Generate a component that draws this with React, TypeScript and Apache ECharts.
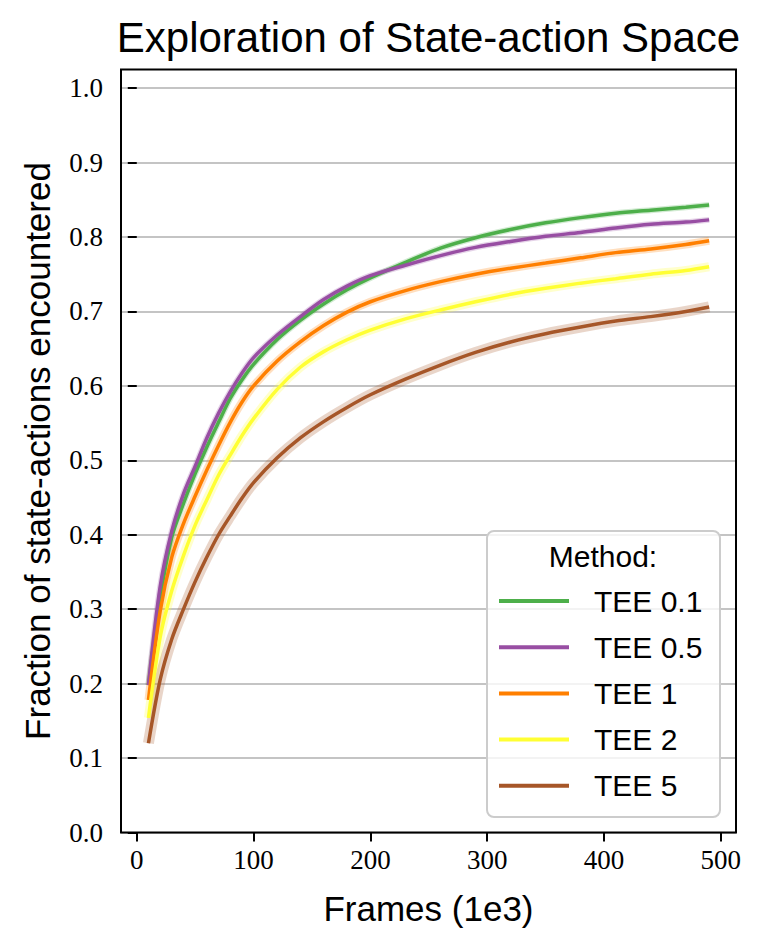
import React, { useEffect, useRef } from "react";
import * as echarts from "echarts";

const frames = [10, 20, 30, 40, 50, 60, 70, 80, 90, 100, 120, 140, 160, 180, 200, 230, 260, 290, 320, 350, 380, 410, 440, 470, 490];
const tee01 = [0.198, 0.315, 0.397, 0.442, 0.482, 0.518, 0.551, 0.583, 0.608, 0.629, 0.662, 0.688, 0.710, 0.729, 0.745, 0.766, 0.785, 0.799, 0.810, 0.819, 0.826, 0.832, 0.836, 0.840, 0.843];
const tee05 = [0.198, 0.330, 0.405, 0.455, 0.492, 0.530, 0.563, 0.592, 0.617, 0.638, 0.668, 0.693, 0.716, 0.734, 0.748, 0.762, 0.775, 0.786, 0.794, 0.801, 0.806, 0.812, 0.817, 0.820, 0.823];
const tee1 = [0.178, 0.297, 0.370, 0.415, 0.452, 0.487, 0.520, 0.551, 0.578, 0.600, 0.633, 0.659, 0.681, 0.699, 0.713, 0.728, 0.740, 0.750, 0.758, 0.765, 0.772, 0.779, 0.784, 0.790, 0.795];
const tee2 = [0.154, 0.262, 0.325, 0.372, 0.413, 0.447, 0.480, 0.507, 0.533, 0.556, 0.595, 0.625, 0.646, 0.662, 0.675, 0.690, 0.702, 0.713, 0.723, 0.731, 0.738, 0.744, 0.750, 0.755, 0.760];
const tee5 = [0.120, 0.205, 0.260, 0.300, 0.337, 0.370, 0.400, 0.425, 0.449, 0.470, 0.503, 0.530, 0.552, 0.571, 0.588, 0.609, 0.628, 0.645, 0.659, 0.670, 0.679, 0.687, 0.693, 0.700, 0.706];

const methodNames = ["TEE 0.1", "TEE 0.5", "TEE 1", "TEE 2", "TEE 5"];
const methodValues = [tee01, tee05, tee1, tee2, tee5];
const methodColors = ["#4daf4a", "#984ea3", "#ff7f00", "#ffff33", "#a65628"];
const bandWidths = [6, 6, 8, 9, 11];

const xTicks = [0, 100, 200, 300, 400, 500];
const yTicks = [0, 0.1, 0.2, 0.3, 0.4, 0.5, 0.6, 0.7, 0.8, 0.9, 1.0];

const SANS = "'Liberation Sans', Arial, sans-serif";
const SERIF = "'Liberation Serif', 'Times New Roman', serif";

export default function App() {
  const ref = useRef<HTMLDivElement>(null);
  useEffect(() => {
    document.body.style.margin = "0";
    if (!ref.current) return;
    const chart = echarts.init(ref.current, null, { renderer: "svg" });
    const pairs = (vals: number[]) => frames.map((f, i) => [f, vals[i]]);
    const bandSeries = methodNames.map((n, i) => ({
      name: n + " band",
      type: "line",
      data: pairs(methodValues[i]),
      symbol: "none",
      silent: true,
      smooth: 0.3,
      z: 1,
      lineStyle: { color: methodColors[i], width: bandWidths[i], opacity: 0.25 },
    }));
    const mainSeries = methodNames.map((n, i) => ({
      name: n,
      type: "line",
      data: pairs(methodValues[i]),
      symbol: "none",
      smooth: 0.3,
      z: 3,
      color: methodColors[i],
      lineStyle: { color: methodColors[i], width: 3.5 },
    }));
    chart.setOption({
      animation: false,
      grid: {
        left: 121,
        right: 25,
        top: 69.5,
        bottom: 115.5,
        show: true,
        borderColor: "#000",
        borderWidth: 2,
        backgroundColor: "transparent",
        z: 4,
      },
      xAxis: {
        type: "value",
        min: -13.5,
        max: 513,
        axisLine: { show: false },
        splitLine: { show: false },
        axisTick: {
          show: true,
          inside: false,
          length: 9,
          customValues: xTicks,
          lineStyle: { color: "#000", width: 2 },
        },
        axisLabel: {
          customValues: xTicks,
          margin: 14,
          color: "#000",
          fontFamily: SERIF,
          fontSize: 27,
          formatter: (v: number) => String(v),
        },
      },
      yAxis: {
        type: "value",
        min: 0,
        max: 1.025,
        interval: 0.1,
        axisLine: { show: false },
        splitLine: { show: true, lineStyle: { color: "#b0b0b0", width: 1.6 } },
        axisTick: {
          show: true,
          inside: false,
          length: 9,
          customValues: yTicks,
          lineStyle: { color: "#000", width: 2 },
        },
        axisLabel: {
          customValues: yTicks,
          margin: 18,
          color: "#000",
          fontFamily: SERIF,
          fontSize: 27,
          formatter: (v: number) => v.toFixed(1),
        },
      },
      legend: {
        data: methodNames,
        orient: "vertical",
        left: 499,
        top: 586,
        padding: 0,
        itemGap: 16.2,
        itemWidth: 70,
        itemHeight: 4,
        icon: "rect",
        z: 12,
        textStyle: {
          fontFamily: SANS,
          fontSize: 30,
          lineHeight: 30,
          color: "#000",
          padding: [0, 0, 0, 20],
        },
      },
      graphic: [
        {
          type: "text",
          style: {
            text: "Exploration of State-action Space",
            x: 428.5,
            y: 37,
            fontFamily: SANS,
            fontSize: 42,
            fill: "#000",
            textAlign: "center",
            textVerticalAlign: "middle",
          },
          z: 20,
        },
        {
          type: "text",
          style: {
            text: "Frames (1e3)",
            x: 428.5,
            y: 908,
            fontFamily: SANS,
            fontSize: 35,
            fill: "#000",
            textAlign: "center",
            textVerticalAlign: "middle",
          },
          z: 20,
        },
        {
          type: "text",
          x: 37,
          y: 451,
          rotation: Math.PI / 2,
          style: {
            text: "Fraction of state-actions encountered",
            x: 0,
            y: 0,
            fontFamily: SANS,
            fontSize: 35,
            fill: "#000",
            textAlign: "center",
            textVerticalAlign: "middle",
          },
          z: 20,
        },
        {
          type: "rect",
          shape: { x: 487, y: 531, width: 233, height: 286, r: 7 },
          style: { fill: "rgba(255,255,255,0.8)", stroke: "#cccccc", lineWidth: 2 },
          z: 10,
        },
        {
          type: "text",
          style: {
            text: "Method:",
            x: 603,
            y: 556,
            fontFamily: SANS,
            fontSize: 30,
            fill: "#000",
            textAlign: "center",
            textVerticalAlign: "middle",
          },
          z: 12,
        },
      ],
      series: [...bandSeries, ...mainSeries],
    });
    return () => chart.dispose();
  }, []);
  return <div ref={ref} style={{ width: 761, height: 948 }} />;
}
